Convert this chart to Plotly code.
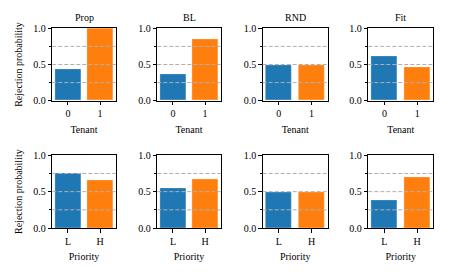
import plotly.graph_objects as go
from plotly.subplots import make_subplots

methods = ["Prop", "BL", "RND", "Fit"]
tenant_labels = ["0", "1"]
priority_labels = ["L", "H"]
tenant_values = {
    "Prop": [0.43, 1.00],
    "BL": [0.37, 0.85],
    "RND": [0.49, 0.49],
    "Fit": [0.62, 0.46],
}
priority_values = {
    "Prop": [0.75, 0.66],
    "BL": [0.55, 0.67],
    "RND": [0.49, 0.49],
    "Fit": [0.38, 0.70],
}
bar_colors = ["#1f77b4", "#ff7f0e"]
grid_levels = [0.25, 0.5, 0.75]
y_ticks = [0.0, 0.5, 1.0]
y_minor = [0.25, 0.75]

W, H = 450, 278
FONT = "Liberation Serif, Times New Roman, Times, serif"
FS = 10

fig = make_subplots(rows=2, cols=4)

x_pix = [(52.3, 115.7), (157.3, 220.7), (262.7, 327.7), (368.3, 433.3)]
y_pix = [(28.3, 100.7), (155.3, 228.0)]

rows = [(tenant_labels, tenant_values, "Tenant"), (priority_labels, priority_values, "Priority")]

for r, (labels, values, xtitle) in enumerate(rows, start=1):
    for c, m in enumerate(methods, start=1):
        fig.add_trace(
            go.Bar(
                x=[0, 1],
                y=values[m],
                width=0.8,
                marker=dict(color=bar_colors, line=dict(color="rgba(255,255,255,0.35)", width=0.8)),
                showlegend=False,
            ),
            row=r, col=c,
        )
        idx = (r - 1) * 4 + c
        xname = "x" if idx == 1 else f"x{idx}"
        yname = "y" if idx == 1 else f"y{idx}"
        for g in grid_levels:
            fig.add_shape(
                type="line", xref=f"{xname} domain", yref=yname,
                x0=0, x1=1, y0=g, y1=g,
                line=dict(color="#b0b0b0", width=1, dash="4px,2px"),
                layer="above",
            )
        x0, x1 = x_pix[c - 1]
        yt, yb = y_pix[r - 1]
        fig.update_xaxes(
            domain=[x0 / W, x1 / W],
            range=[-0.49, 1.49],
            tickvals=[0, 1], ticktext=labels,
            ticks="outside", ticklen=3.5, tickwidth=0.8, tickcolor="black",
            showline=True, linecolor="black", linewidth=1, mirror=True,
            showgrid=False, zeroline=False, automargin=False,
            title=dict(text=xtitle, font=dict(family=FONT, size=FS, color="black"), standoff=7),
            tickfont=dict(family=FONT, size=FS, color="black"),
            fixedrange=True,
            row=r, col=c,
        )
        fig.update_yaxes(
            domain=[1 - yb / H, 1 - yt / H],
            range=[0, 1.0],
            tickvals=y_ticks, tickformat=".1f",
            ticks="outside", ticklen=3.5, tickwidth=0.8, tickcolor="black",
            minor=dict(tickvals=y_minor, ticks="outside", ticklen=2, tickwidth=0.6, tickcolor="black", showgrid=False),
            showline=True, linecolor="black", linewidth=1, mirror=True,
            showgrid=False, zeroline=False, automargin=False,
            tickfont=dict(family=FONT, size=FS, color="black"),
            title=dict(text="Rejection probability" if c == 1 else "", font=dict(family=FONT, size=FS, color="black"), standoff=8),
            fixedrange=True,
            row=r, col=c,
        )
        if r == 1:
            fig.add_annotation(
                text=m, xref="paper", yref="paper",
                x=(x0 + x1) / 2 / W, y=1 - yt / H,
                xanchor="center", yanchor="bottom", yshift=3,
                showarrow=False, font=dict(family=FONT, size=FS, color="black"),
            )

fig.update_layout(
    width=W, height=H,
    margin=dict(l=0, r=0, t=0, b=0, autoexpand=False),
    paper_bgcolor="white", plot_bgcolor="white",
    bargap=0,
    font=dict(family=FONT, size=FS, color="black"),
)

fig.write_html(
    "out.html",
    config={"displayModeBar": False},
    post_script="document.body.style.margin='0';document.body.style.overflow='hidden';",
)
